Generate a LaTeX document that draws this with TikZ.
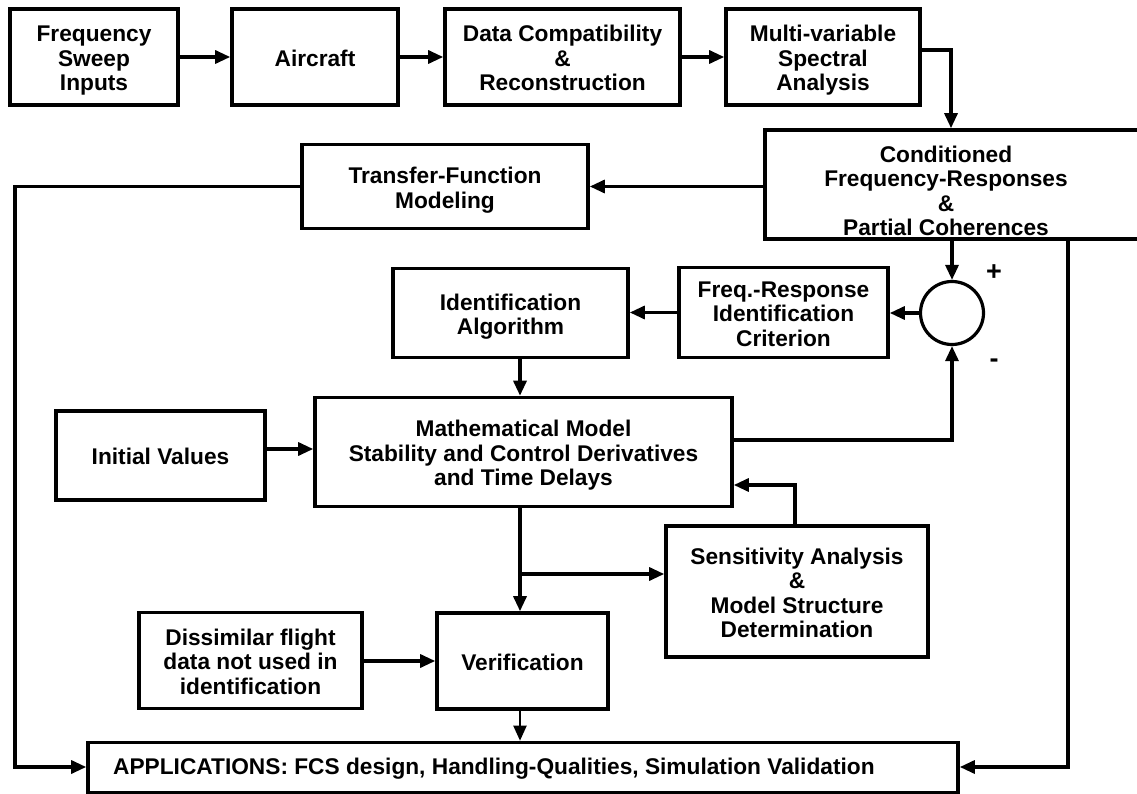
\documentclass[tikz,border=0pt]{standalone}
\usepackage{fontspec}
\setmainfont{Liberation Sans}
\usetikzlibrary{arrows.meta}
\newcommand\labfont{\bfseries\fontsize{22.7}{24.5}\selectfont}
\newcommand\signfont{\bfseries\fontsize{27}{27}\selectfont}
\newcommand\bx[1]{\raisebox{0pt}[\dimexpr\height+9pt\relax][\depth]{\begin{tabular}{@{}c@{}}#1\end{tabular}}}
\begin{document}
\begin{tikzpicture}[x=1pt,y=-1pt,
  box/.style={draw, line width=3.6pt, inner sep=0pt, font=\labfont},
  txt/.style={align=center, inner sep=0pt, font=\labfont},
  sign/.style={inner sep=0pt, font=\signfont},
  arr/.style={line width=3.2pt, -{Triangle[length=15pt,width=13pt]}},
  thinarr/.style={line width=2pt, -{Triangle[length=15pt,width=13pt]}}]
\useasboundingbox (0,0) rectangle (1137,794);

% top row
\node[box, minimum width=168pt, minimum height=96pt] (fsi) at (94,57) {\bx{Frequency\\Sweep\\Inputs}};
\node[box, minimum width=166pt, minimum height=96pt] (air) at (315,57) {\bx{Aircraft}};
\node[box, minimum width=235pt, minimum height=96pt] (dc) at (562.5,57) {\bx{Data Compatibility\\\&\\Reconstruction}};
\node[box, minimum width=194pt, minimum height=96pt] (mv) at (823,57) {\bx{Multi-variable\\Spectral\\Analysis}};

% conditioned box (extends past right edge)
\node[box, minimum width=385pt, minimum height=109pt] (cond) at (957.5,184.5) {};
\node[txt] (condtxt) at (946,191) {Conditioned\\Frequency-Responses\\\&\\Partial Coherences};

\node[box, minimum width=286pt, minimum height=84pt] (tf) at (445,186.5) {\bx{Transfer-Function\\Modeling}};
\node[box, minimum width=235pt, minimum height=89pt] (ia) at (510.5,313) {\bx{Identification\\Algorithm}};
\node[box, minimum width=209pt, minimum height=90pt] (fric) at (783.5,312.5) {\bx{Freq.-Response\\Identification\\Criterion}};
\node[draw, circle, line width=3.2pt, minimum size=63pt, inner sep=0pt] (sum) at (952,313) {};
\node[sign] (plus) at (994,273) {+};
\node[sign] (minus) at (994,363) {-};

\node[box, minimum width=417pt, minimum height=109pt] (mm) at (523.5,452) {\bx{Mathematical Model\\Stability and Control Derivatives\\and Time Delays}};
\node[box, minimum width=209pt, minimum height=89pt] (iv) at (160.5,455.5) {\bx{Initial Values}};
\node[box, minimum width=262pt, minimum height=131pt] (sens) at (797,591.5) {\bx{Sensitivity Analysis\\\&\\Model Structure\\Determination}};
\node[box, minimum width=223pt, minimum height=96pt] (dis) at (250.5,660.5) {\bx{Dissimilar flight\\data not used in\\identification}};
\node[box, minimum width=171pt, minimum height=96pt] (ver) at (522.5,661) {\bx{Verification}};
\node[box, minimum width=870pt, minimum height=50pt] (app) at (523,767.5) {};
\node[txt, anchor=west] (apptxt) at (113,769) {APPLICATIONS: FCS design, Handling-Qualities, Simulation Validation};

% helper coordinates
\coordinate (c1) at (951,50);
\coordinate (lc) at (15,767);
\coordinate (rc) at (1068,767);
\coordinate (v1) at (520,0);
\coordinate (br) at (520,574);
\coordinate (sk) at (795,485);
\coordinate (iy) at (0,449);

% connectors
\draw[arr] (fsi.east) -- (air.west);
\draw[arr] (air.east) -- (dc.west);
\draw[arr] (dc.east) -- (mv.west);
\draw[arr] (mv.east |- c1) -- (c1) -- (cond.north -| c1);
\draw[arr] (cond.west |- tf.east) -- (tf.east);
\draw[arr] (tf.west) -| (lc) -- (lc -| app.west);
\draw[arr] (cond.south -| sum.north) -- (sum.north);
\draw[arr] (cond.south -| rc) -- (rc) -- (rc -| app.east);
\draw[arr] (sum.west) -- (sum.west -| fric.east);
\draw[arr] (fric.west) -- (fric.west -| ia.east);
\draw[arr] (ia.south -| v1) -- (mm.north -| v1);
\draw[arr] ([yshift=12pt]mm.east) -| (sum.south);
\draw[arr] (iv.east |- iy) -- (mm.west |- iy);
\draw[arr] (mm.south -| v1) -- (ver.north -| v1);
\draw[arr] (br) -- (br -| sens.west);
\draw[arr] (sens.north -| sk) -- (sk) -- (sk -| mm.east);
\draw[arr] (dis.east |- ver.west) -- (ver.west);
\draw[thinarr] (ver.south -| v1) -- (app.north -| v1);
\end{tikzpicture}
\end{document}
